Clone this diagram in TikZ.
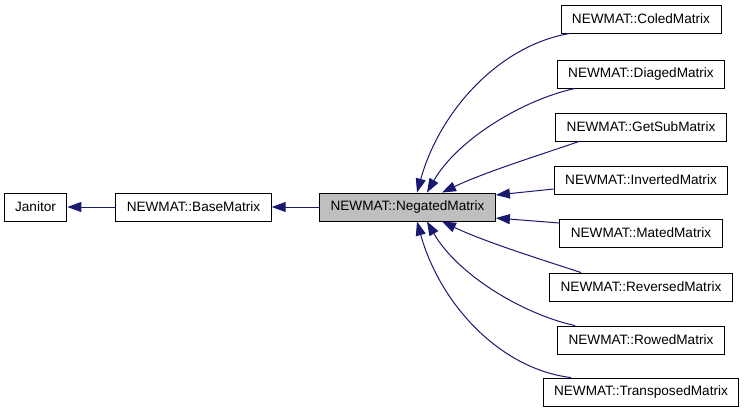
\documentclass[tikz,border=0pt]{standalone}
\usepackage{fontspec}
\setmainfont{Liberation Sans}
\usepackage{tikz}
\usetikzlibrary{positioning}
\usetikzlibrary{arrows.meta,calc}
\definecolor{edgeblue}{HTML}{191970}
\tikzstyle{classnode}=[rectangle,draw=black,fill=white,line width=0.9pt,inner xsep=11pt,minimum height=28pt,font=\fontsize{13.6}{15}\selectfont]
\tikzstyle{focusnode}=[classnode,fill=black!25]
\tikzstyle{inherit}=[draw,edgeblue,line width=1pt,-{Triangle[length=14pt,width=10pt]}]

\begin{document}
\begin{tikzpicture}[x=1pt,y=-1pt]
    \useasboundingbox (0,0) rectangle (744,413);
    % First the chain of base classes
    \node[classnode] (janitor) at (35.5,207) {Janitor};
    \node[classnode] (base) at (193.5,207) {NEWMAT::BaseMatrix};
    \node[focusnode] (negated) at (407.5,207) {NEWMAT::NegatedMatrix};

    % Then the derived classes on the right
    \foreach \y/\name/\txt in {{19/coled/Coled}, {74/diaged/Diaged}, {127/getsub/GetSub}, {180/inverted/Inverted}, {233/mated/Mated}, {287/reversed/Reversed}, {340/rowed/Rowed}, {392/transposed/Transposed}}
        \node[classnode] (\name) at (641,\y) {NEWMAT::\txt Matrix};

    % Connect them, arrows point to the parent
    \path[inherit] (base) -- (janitor);
    \path[inherit] (negated) -- (base);
    \path[inherit] ([xshift=-71pt]coled.south) .. controls (500,45) and (440,110) .. ([xshift=9.5pt]negated.north);
    \path[inherit] ([xshift=-66pt]diaged.south) .. controls (522,100) and (457,140) .. ([xshift=19.5pt]negated.north);
    \path[inherit] ([xshift=-62pt]getsub.south) .. controls (540,155) and (485,172) .. ([xshift=34.5pt]negated.north);
    \path[inherit] ([yshift=-9pt]inverted.west) -- ([yshift=12pt]negated.east);
    \path[inherit] ([yshift=10pt]mated.west) -- ([yshift=-11pt]negated.east);
    \path[inherit] ([xshift=-60pt]reversed.north) .. controls (540,259) and (485,242) .. ([xshift=34.5pt]negated.south);
    \path[inherit] ([xshift=-66pt]rowed.north) .. controls (522,314) and (457,274) .. ([xshift=19.5pt]negated.south);
    \path[inherit] ([xshift=-70pt]transposed.north) .. controls (500,369) and (440,304) .. ([xshift=9.5pt]negated.south);
\end{tikzpicture}
\end{document}
